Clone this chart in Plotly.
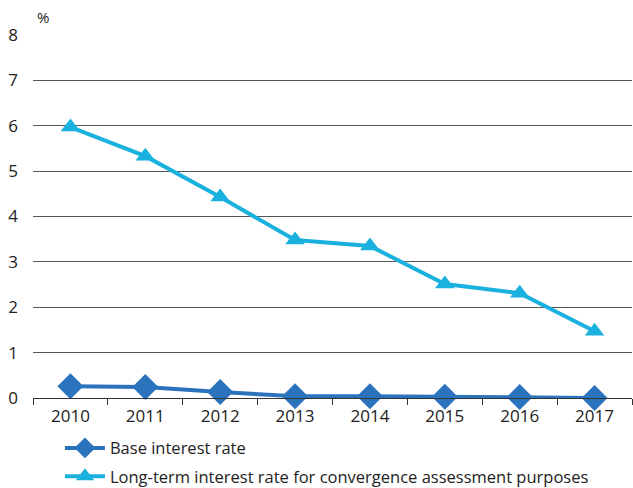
import plotly.graph_objects as go

years = [2010, 2011, 2012, 2013, 2014, 2015, 2016, 2017]
base_rate = [0.26, 0.24, 0.13, 0.04, 0.04, 0.03, 0.02, 0.00]
long_term = [5.97, 5.33, 4.43, 3.48, 3.35, 2.51, 2.31, 1.47]
y_ticks = [0, 1, 2, 3, 4, 5, 6, 7, 8]

base_color = "#2c73bd"
lt_color = "#1bb1de"
font = "Open Sans"

fig = go.Figure()
fig.add_trace(go.Scatter(
    x=years, y=base_rate, name="Base interest rate", mode="lines+markers",
    line=dict(color=base_color, width=4),
    marker=dict(symbol="diamond", size=20, color=base_color),
    cliponaxis=False, legendgroup="a",
))
fig.add_trace(go.Scatter(
    x=years, y=long_term, name="Long-term interest rate for convergence assessment purposes",
    mode="lines+markers",
    line=dict(color=lt_color, width=4),
    marker=dict(symbol="triangle-up", size=17, color=lt_color),
    cliponaxis=False, legendgroup="b",
))

fig.update_layout(
    width=633, height=488,
    margin=dict(l=33, r=1, t=35, b=90, autoexpand=False),
    paper_bgcolor="white", plot_bgcolor="white",
    font=dict(family=font, size=15, color="#222222"),
    showlegend=True,
    legend=dict(orientation="v", x=0.045, y=-0.09, xanchor="left", yanchor="top",
                font=dict(size=16.5, color="#222222"), tracegroupgap=4, itemwidth=40),
    annotations=[dict(text="%", x=0, xref="paper", xanchor="left", xshift=2,
                      y=8, yref="y", yanchor="bottom", yshift=6,
                      showarrow=False, font=dict(size=15, color="#222222"))],
)
fig.update_xaxes(
    range=[2009.5, 2017.5], tickvals=years, ticktext=[str(y) for y in years],
    ticks="", showgrid=False, zeroline=False, automargin=False,
    showline=True, linecolor="#333333", linewidth=1,
    tickfont=dict(size=17), ticklabelstandoff=3,
    minor=dict(tickvals=[y - 0.5 for y in years] + [2017.5], ticks="outside",
               ticklen=6, tickcolor="#333333", tickwidth=1, showgrid=False),
)
fig.update_yaxes(
    range=[0, 8], tickvals=y_ticks, showgrid=True, gridcolor="#555555", gridwidth=1,
    zeroline=False, showline=False, ticks="", tickfont=dict(size=17),
    ticklabelstandoff=14, automargin=False,
)

fig.write_html("out.html", config={"displayModeBar": False},
               post_script="document.body.style.margin='0';")
